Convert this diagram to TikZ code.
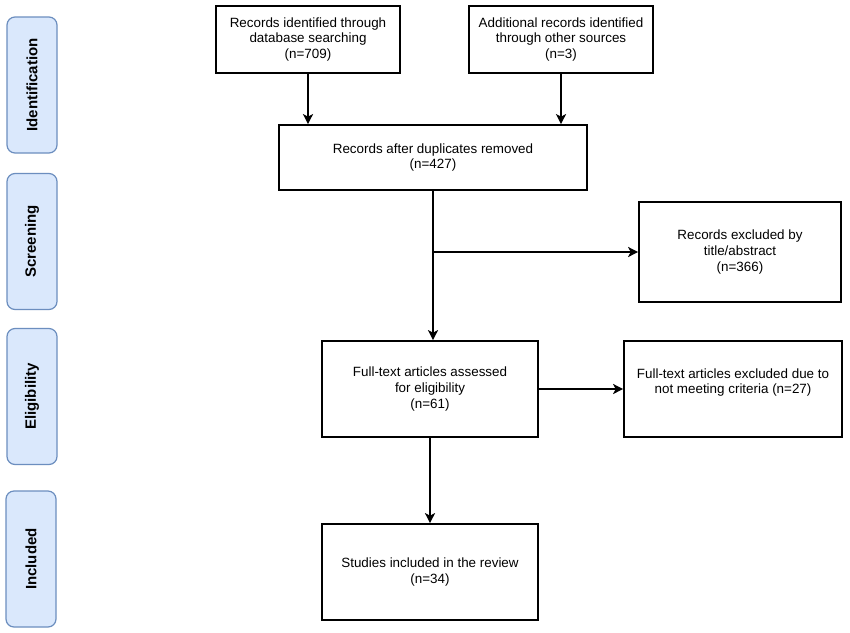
\documentclass[tikz,border=0pt]{standalone}
\usepackage{fontspec}
\setmainfont{Liberation Sans}
\usetikzlibrary{arrows.meta}
\definecolor{phasefill}{HTML}{DAE8FC}
\definecolor{phaseline}{HTML}{6C8EBF}
\begin{document}
\begin{tikzpicture}[x=1pt,y=-1pt,
  box/.style={draw=black, line width=1.7pt, inner sep=0pt, align=center,
    font=\fontsize{13.4}{15.8}\selectfont},
  phase/.style={draw=phaseline, fill=phasefill, line width=1.2pt, rounded corners=8pt,
    rotate=90, minimum width=136pt, minimum height=50pt, inner sep=0pt,
    font=\fontsize{15}{17}\selectfont\bfseries},
  arr/.style={line width=1.7pt, -{Stealth[length=10pt,width=10pt,inset=2.5pt]}}
]
\useasboundingbox (0,0) rectangle (850,632);
\fill[white] (0,0) rectangle (850,632);

% phase labels
\node[phase] (p1) at (32,85) {Identification};
\node[phase] (p2) at (32,241.5) {Screening};
\node[phase] (p3) at (32,396.5) {Eligibility};
\node[phase] (p4) at (31,559) {Included};

% boxes
\node[box, minimum width=184pt, minimum height=67pt] (b1) at (308,39.5)
  {Records identified through\\database searching\\(n=709)};
\node[box, minimum width=184pt, minimum height=67pt] (b2) at (561,39.5)
  {Additional records identified\\through other sources\\(n=3)};
\node[box, minimum width=308pt, minimum height=65pt] (b3) at (433,157.5)
  {Records after duplicates removed\\(n=427)};
\node[box, minimum width=202pt, minimum height=100pt] (b5) at (740,252)
  {Records excluded by\\title/abstract\\(n=366)};
\node[box, minimum width=216pt, minimum height=96pt] (b4) at (430,389)
  {Full-text articles assessed\\for eligibility\\(n=61)};
\node[box, minimum width=218pt, minimum height=96pt] (b6) at (733,389)
  {Full-text articles excluded due to\\not meeting criteria (n=27)\\\mbox{}};
\node[box, minimum width=216pt, minimum height=96pt] (b7) at (430,572)
  {Studies included in the review\\(n=34)};

% connectors
\draw[arr] (b1.south) -- (b1.south |- b3.north);
\draw[arr] (b2.south) -- (b2.south |- b3.north);
\draw[arr] (b3.south) -- (b3.south |- b4.north);
\coordinate (br) at (b3.south |- b5.west);
\draw[arr] (br) -- (b5.west);
\draw[arr] (b4.east) -- (b6.west);
\draw[arr] (b4.south) -- (b4.south |- b7.north);
\end{tikzpicture}
\end{document}
